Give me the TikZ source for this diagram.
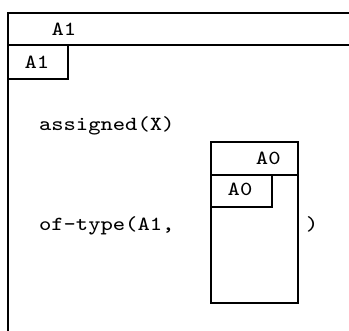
\documentclass[tikz,border=0pt]{standalone}
\usepackage{graphicx}
\newcommand{\tttext}[1]{\scalebox{2.9}[2.5]{\fontsize{8}{10}\selectfont\ttfamily #1}}
\tikzset{
  lbl/.style={inner sep=0pt, outer sep=0pt, anchor=base},
  lblw/.style={inner sep=0pt, outer sep=0pt, anchor=base west},
  frame/.style={line width=2pt}
}
\begin{document}
\begin{tikzpicture}[x=1pt,y=-1pt]
\useasboundingbox (0,0) rectangle (349,331);
% outer frame
\coordinate (otr) at (349,13);
\coordinate (otl) at (7.5,13);
\coordinate (obl) at (7.5,331);
\draw[frame] (otr) -- (otl) -- (obl);
\coordinate (ohl) at (7.5,45);
\coordinate (ohr) at (349,45);
\draw[frame] (ohl) -- (ohr);
\coordinate (osb1) at (68,45);
\coordinate (osb2) at (68,79);
\coordinate (osb3) at (7.5,79);
\draw[frame] (osb1) -- (osb2) -- (osb3);
\node[lbl] (h1) at (64,35.7) {\tttext{A1}};
\node[lbl] (s1) at (37,69) {\tttext{A1}};
\node[lblw] (asg) at (39,131) {\tttext{assigned(X)}};
\node[lblw] (oft) at (39,231) {\tttext{of-type(A1,}};
\node[lbl] (cp) at (312,231) {\tttext{)}};
% inner frame
\coordinate (itl) at (211,142.5);
\coordinate (ibr) at (297.7,303.3);
\draw[frame] (itl) rectangle (ibr);
\coordinate (ihl) at (211,175);
\coordinate (ihr) at (297.7,175);
\draw[frame] (ihl) -- (ihr);
\coordinate (isb1) at (271.7,175);
\coordinate (isb2) at (271.7,207.3);
\coordinate (isb3) at (211,207.3);
\draw[frame] (isb1) -- (isb2) -- (isb3);
\node[lbl] (h0) at (268.3,164.3) {\tttext{A0}};
\node[lbl] (s0) at (240,196) {\tttext{A0}};
\end{tikzpicture}
\end{document}
